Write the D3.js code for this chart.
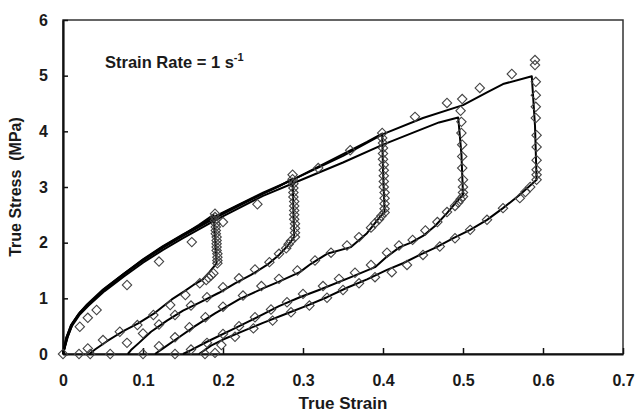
<!DOCTYPE html>
<html>
<head>
<meta charset="utf-8">
<script src="https://cdn.jsdelivr.net/npm/d3@7"></script>
<style>
  body { margin: 0; background: #fff; }
  text { font-family: "Liberation Sans", Arial, sans-serif; font-weight: bold; fill: #1a1a1a; }
</style>
</head>
<body>
<script>
// axis ticks
var xTicks = [0, 0.1, 0.2, 0.3, 0.4, 0.5, 0.6, 0.7];
var yTicks = [0, 1, 2, 3, 4, 5, 6];

// model curves, one per cycle: loading, relaxation, unloading
var model1 = [[0,0],[0.004,0.28],[0.01,0.52],[0.02,0.73],[0.03,0.89],[0.05,1.16],[0.075,1.43],[0.1,1.69],[0.125,1.93],[0.15,2.14],[0.17,2.32],[0.188,2.5],
  [0.19,2.1],[0.192,1.63],[0.183,1.47],[0.174,1.33],[0.163,1.24],[0.152,1.13],[0.136,0.98],[0.115,0.74],[0.094,0.55],[0.074,0.4],[0.055,0.23],[0.04,0.08],[0.033,0]];
var model2 = [[0,0],[0.005,0.3],[0.011,0.53],[0.021,0.74],[0.032,0.9],[0.052,1.17],[0.077,1.45],[0.1,1.7],[0.125,1.94],[0.15,2.15],[0.19,2.46],[0.22,2.68],[0.25,2.88],[0.27,3.01],[0.287,3.15],
  [0.288,2.6],[0.289,2.1],[0.28,1.93],[0.27,1.78],[0.255,1.6],[0.235,1.42],[0.215,1.27],[0.195,1.1],[0.17,0.92],[0.15,0.78],[0.13,0.6],[0.11,0.4],[0.095,0.2],[0.085,0.07],[0.081,0]];
var model3 = [[0,0],[0.006,0.31],[0.012,0.54],[0.022,0.75],[0.033,0.9],[0.053,1.17],[0.078,1.45],[0.1,1.68],[0.125,1.91],[0.15,2.12],[0.19,2.44],[0.22,2.66],[0.25,2.88],[0.29,3.15],[0.32,3.37],[0.35,3.59],[0.38,3.81],[0.399,3.96],
  [0.4,3.3],[0.402,2.55],[0.396,2.46],[0.38,2.17],[0.36,1.92],[0.33,1.8],[0.31,1.62],[0.296,1.47],[0.27,1.3],[0.25,1.18],[0.22,0.98],[0.19,0.73],[0.165,0.5],[0.145,0.3],[0.125,0.1],[0.115,0]];
var model4 = [[0,0],[0.005,0.28],[0.011,0.5],[0.021,0.71],[0.032,0.87],[0.052,1.13],[0.077,1.4],[0.1,1.64],[0.125,1.87],[0.15,2.08],[0.19,2.4],[0.25,2.84],[0.29,3.08],[0.35,3.44],[0.4,3.76],[0.44,3.99],[0.47,4.16],[0.494,4.25],
  [0.498,3.6],[0.5,2.86],[0.49,2.7],[0.48,2.53],[0.465,2.3],[0.45,2.12],[0.435,2.0],[0.421,1.92],[0.405,1.75],[0.39,1.56],[0.36,1.38],[0.32,1.15],[0.296,1.02],[0.27,0.86],[0.24,0.64],[0.21,0.43],[0.18,0.22],[0.16,0.07],[0.15,0]];
var model5 = [[0,0],[0.004,0.29],[0.01,0.51],[0.02,0.72],[0.031,0.88],[0.051,1.15],[0.076,1.43],[0.1,1.68],[0.125,1.92],[0.15,2.13],[0.19,2.47],[0.25,2.9],[0.29,3.15],[0.35,3.56],[0.4,3.95],[0.45,4.24],[0.5,4.47],[0.53,4.7],[0.55,4.85],[0.586,4.99],
  [0.59,4.1],[0.592,3.13],[0.571,2.86],[0.55,2.62],[0.53,2.41],[0.509,2.23],[0.488,2.08],[0.467,1.92],[0.446,1.78],[0.425,1.63],[0.405,1.51],[0.38,1.34],[0.355,1.19],[0.33,1.02],[0.305,0.87],[0.275,0.7],[0.25,0.56],[0.225,0.41],[0.2,0.26],[0.185,0.15],[0.175,0.05],[0.17,0]];

// experimental points (diamonds)
var expLoad = [[0,0],[0.021,0.49],[0.031,0.65],[0.042,0.79],[0.08,1.24],[0.12,1.66],[0.161,2.01],[0.2,2.37],[0.243,2.69],[0.319,3.34],[0.359,3.66],[0.44,4.26],[0.48,4.51],[0.499,4.58],[0.521,4.78],[0.561,5.03]];
var exp1 = [[0.19,2.52],[0.19,2.46],[0.19,2.4],[0.191,2.34],[0.191,2.28],[0.191,2.22],[0.191,2.16],[0.192,2.1],[0.192,2.04],[0.192,1.98],[0.192,1.92],[0.192,1.86],[0.193,1.8],[0.193,1.74],[0.193,1.68],[0.193,1.63],
  [0.188,1.45],[0.185,1.41],[0.182,1.37],[0.179,1.33],[0.171,1.27],[0.153,1.06],[0.134,0.88],[0.113,0.7],[0.093,0.52],[0.071,0.4],[0.05,0.25],[0.031,0.1],[0.02,0],[0.034,0]];
var exp2 = [[0.287,3.22],[0.287,3.14],[0.288,3.06],[0.288,2.98],[0.288,2.9],[0.288,2.82],[0.289,2.74],[0.289,2.66],[0.289,2.58],[0.289,2.5],[0.289,2.42],[0.29,2.34],[0.29,2.26],[0.29,2.18],[0.29,2.1],
  [0.285,2.03],[0.282,1.97],[0.279,1.9],[0.27,1.8],[0.258,1.65],[0.24,1.52],[0.22,1.36],[0.2,1.2],[0.18,1.02],[0.16,0.87],[0.14,0.7],[0.12,0.53],[0.1,0.37],[0.08,0.2],[0.059,0]];
var exp3 = [[0.399,3.97],[0.399,3.88],[0.4,3.79],[0.4,3.7],[0.4,3.6],[0.4,3.5],[0.401,3.4],[0.401,3.3],[0.401,3.2],[0.401,3.1],[0.401,3.0],[0.402,2.9],[0.402,2.8],[0.402,2.7],[0.402,2.61],[0.402,2.54],
  [0.398,2.48],[0.395,2.42],[0.39,2.35],[0.385,2.27],[0.37,2.1],[0.355,1.95],[0.335,1.82],[0.315,1.68],[0.293,1.5],[0.27,1.35],[0.248,1.22],[0.225,1.05],[0.2,0.85],[0.178,0.66],[0.158,0.48],[0.14,0.3],[0.12,0.14],[0.1,0]];
var exp4 = [[0.497,4.37],[0.498,4.17],[0.498,3.97],[0.499,3.76],[0.499,3.55],[0.499,3.34],[0.5,3.13],[0.5,3.0],[0.5,2.9],[0.5,2.83],
  [0.497,2.78],[0.494,2.72],[0.49,2.66],[0.48,2.55],[0.468,2.37],[0.453,2.22],[0.437,2.05],[0.42,1.95],[0.405,1.82],[0.385,1.6],[0.365,1.46],[0.345,1.35],[0.325,1.22],[0.3,1.08],[0.28,0.93],[0.26,0.8],[0.24,0.66],[0.22,0.5],[0.2,0.36],[0.18,0.2],[0.16,0.08],[0.14,0]];
var exp5 = [[0.59,5.28],[0.59,5.19],[0.591,4.89],[0.591,4.65],[0.591,4.44],[0.591,4.24],[0.592,3.93],[0.592,3.72],[0.592,3.48],[0.592,3.31],[0.592,3.22],[0.592,3.13],
  [0.584,3.0],[0.578,2.91],[0.571,2.8],[0.55,2.62],[0.53,2.41],[0.509,2.23],[0.49,2.08],[0.471,1.93],[0.45,1.78],[0.43,1.6],[0.411,1.47],[0.39,1.38],[0.37,1.27],[0.35,1.15],[0.33,1.01],[0.308,0.87],[0.285,0.75],[0.262,0.6],[0.238,0.46],[0.215,0.31],[0.198,0.16],[0.19,0.02],[0.1775,0]];

var width = 636, height = 412;
var plotLeft = 63, plotTop = 20, plotRight = 623, plotBottom = 354;

var svg = d3.select("body").append("svg")
    .attr("width", width)
    .attr("height", height);

var x = d3.scaleLinear().domain([0, 0.7]).range([plotLeft, plotRight]);
var y = d3.scaleLinear().domain([0, 6]).range([plotBottom, plotTop]);

// frame (top and right sides)
svg.append("rect")
    .attr("x", plotLeft)
    .attr("y", plotTop)
    .attr("width", plotRight - plotLeft)
    .attr("height", plotBottom - plotTop)
    .attr("fill", "none")
    .attr("stroke", "#333")
    .attr("stroke-width", 1.5);

var xAxis = svg.append("g")
    .attr("transform", "translate(0," + plotBottom + ")")
    .call(d3.axisBottom(x).tickValues(xTicks).tickSizeInner(-6).tickSizeOuter(0).tickPadding(21)
        .tickFormat(function(d) { return d === 0 ? "0" : d3.format(".1f")(d); }));
var yAxis = svg.append("g")
    .attr("transform", "translate(" + plotLeft + ",0)")
    .call(d3.axisLeft(y).tickValues(yTicks).tickSizeInner(-5).tickSizeOuter(0).tickPadding(15).tickFormat(d3.format("d")));

[xAxis, yAxis].forEach(function(g) {
    g.select(".domain").attr("stroke", "#111").attr("stroke-width", 2.2);
    g.selectAll(".tick line").attr("stroke", "#111").attr("stroke-width", 1.5);
    g.selectAll(".tick text")
        .attr("font-size", 16)
        .attr("font-family", "Liberation Sans, Arial, sans-serif")
        .attr("font-weight", "bold")
        .attr("fill", "#1a1a1a");
});

// model lines
var line = d3.line().x(function(d) { return x(d[0]); }).y(function(d) { return y(d[1]); });
[model1, model2, model3, model4, model5].forEach(function(m) {
    svg.append("path")
        .attr("d", line(m))
        .attr("fill", "none")
        .attr("stroke", "#000")
        .attr("stroke-width", 2)
        .attr("stroke-linejoin", "round");
});

// experimental diamonds
var diamond = d3.symbol().type(d3.symbolSquare).size(44);
[expLoad, exp1, exp2, exp3, exp4, exp5].forEach(function(e) {
    svg.append("g").selectAll("path")
        .data(e)
        .enter().append("path")
        .attr("d", diamond)
        .attr("transform", function(d) { return "translate(" + x(d[0]) + "," + y(d[1]) + ") rotate(45)"; })
        .attr("fill", "none")
        .attr("stroke", "#444")
        .attr("stroke-width", 1.1);
});

// axis titles
svg.append("text")
    .attr("x", (plotLeft + plotRight) / 2)
    .attr("y", 409)
    .attr("text-anchor", "middle")
    .attr("font-size", 17)
    .text("True Strain");

svg.append("text")
    .attr("transform", "translate(21," + ((plotTop + plotBottom) / 2) + ") rotate(-90)")
    .attr("text-anchor", "middle")
    .attr("font-size", 16)
    .attr("xml:space", "preserve")
    .text("True Stress  (MPa)");

// strain rate label
var label = svg.append("text")
    .attr("x", 105)
    .attr("y", 68)
    .attr("font-size", 16.5);
label.append("tspan").text("Strain Rate = 1 s");
label.append("tspan").attr("font-size", 11).attr("dy", -7).text("-1");
</script>
</body>
</html>
